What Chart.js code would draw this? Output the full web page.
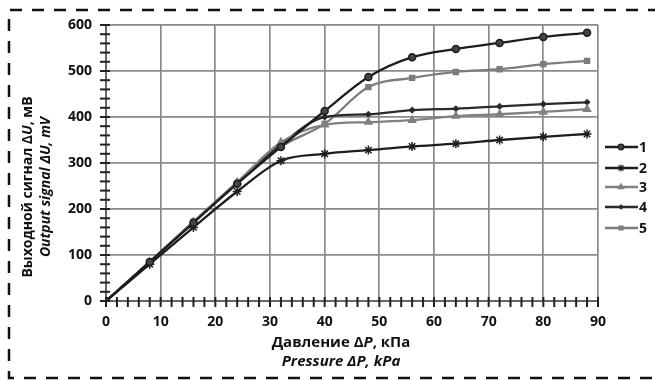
<!DOCTYPE html>
<html>
<head>
<meta charset="utf-8">
<script src="https://cdn.jsdelivr.net/npm/chart.js@4"></script>
<style>
  html, body { margin: 0; padding: 0; background: #fff; }
  #wrap { width: 655px; height: 380px; }
</style>
</head>
<body>
<div id="wrap"><canvas id="chart" width="655" height="380"></canvas></div>
<script>
// pressure, kPa
const pressure = [0, 8, 16, 24, 32, 40, 48, 56, 64, 72, 80, 88];
// output signal, mV
const s1 = [0, 85, 170, 255, 335, 413, 487, 530, 548, 561, 574, 583];
const s2 = [0, 80, 160, 238, 305, 320, 328, 336, 342, 350, 357, 363];
const s3 = [0, 85, 172, 258, 345, 383, 389, 393, 402, 406, 411, 417];
const s4 = [0, 85, 172, 258, 340, 400, 406, 415, 418, 423, 428, 432];
const s5 = [0, 85, 172, 255, 335, 385, 465, 485, 498, 504, 515, 522];
const seriesNames = ['1', '2', '3', '4', '5'];
// minor tick steps
const xMinor = 2;
const yMinor = 20;

const FONT = '"Open Sans", "DejaVu Sans", sans-serif';

function pts(arr) {
    return arr.map((v, i) => ({ x: pressure[i], y: v }));
}

const styles = [
    { color: '#1e1e1e', point: 'circle', r: 3.5, fill: '#444' },
    { color: '#1e1e1e', point: 'star', r: 4.5, fill: '#1e1e1e' },
    { color: '#808080', point: 'triangle', r: 4, fill: '#808080' },
    { color: '#2a2a2a', point: 'rectRot', r: 2.5, fill: '#2a2a2a' },
    { color: '#7c7c7c', point: 'rect', r: 3.5, fill: '#7c7c7c' }
];

const datasets = [s1, s2, s3, s4, s5].map((arr, i) => ({
    label: seriesNames[i],
    data: pts(arr),
    borderColor: styles[i].color,
    backgroundColor: styles[i].fill,
    borderWidth: 2.3,
    pointStyle: styles[i].point,
    pointRadius: styles[i].r,
    pointBorderColor: styles[i].color,
    pointBackgroundColor: styles[i].fill,
    pointBorderWidth: 1.5,
    cubicInterpolationMode: 'monotone'
}));

// draws one line of text with some parts in italic
function drawMixed(ctx, parts, cx, cy, size) {
    let w = 0;
    parts.forEach(p => {
        ctx.font = (p[1] ? 'italic ' : '') + 'bold ' + size + 'px ' + FONT;
        w += ctx.measureText(p[0]).width;
    });
    let x = cx - w / 2;
    ctx.textAlign = 'left';
    ctx.textBaseline = 'middle';
    parts.forEach(p => {
        ctx.font = (p[1] ? 'italic ' : '') + 'bold ' + size + 'px ' + FONT;
        ctx.fillText(p[0], x, cy);
        x += ctx.measureText(p[0]).width;
    });
}

const extras = {
    id: 'extras',
    beforeDraw(chart) {
        // dashed frame (right side is off the picture)
        const ctx = chart.ctx;
        ctx.save();
        ctx.strokeStyle = '#111';
        ctx.lineWidth = 2.5;
        ctx.setLineDash([12, 10]);
        ctx.beginPath();
        ctx.moveTo(660, 10);
        ctx.lineTo(9, 10);
        ctx.lineTo(9, 378);
        ctx.lineTo(660, 378);
        ctx.stroke();
        ctx.restore();
    },
    afterDraw(chart) {
        const ctx = chart.ctx;
        ctx.save();

        // tick marks crossing the axes
        const area = chart.chartArea;
        ctx.setLineDash([]);
        ctx.strokeStyle = '#222';
        ctx.lineWidth = 2;
        for (let v = 0; v <= 90; v += xMinor) {
            const px = chart.scales.x.getPixelForValue(v);
            ctx.beginPath();
            ctx.moveTo(px, area.bottom - 4);
            ctx.lineTo(px, area.bottom + 6);
            ctx.stroke();
        }
        for (let v = 0; v <= 600; v += yMinor) {
            const py = chart.scales.y.getPixelForValue(v);
            ctx.beginPath();
            ctx.moveTo(area.left - 6, py);
            ctx.lineTo(area.left + 4, py);
            ctx.stroke();
        }

        ctx.fillStyle = '#111';
        // x title
        drawMixed(ctx, [['Давление Δ', false], ['P', true], [', кПа', false]], 341, 343, 15);
        drawMixed(ctx, [['Pressure ΔP, kPa', true]], 341, 362, 15);
        // y title
        ctx.save();
        ctx.translate(28, 187);
        ctx.rotate(-Math.PI / 2);
        drawMixed(ctx, [['Выходной сигнал Δ', false], ['U', true], [', мВ', false]], 0, 0, 14);
        ctx.restore();
        ctx.save();
        ctx.translate(46, 187);
        ctx.rotate(-Math.PI / 2);
        drawMixed(ctx, [['Output signal ΔU, mV', true]], 0, 0, 14);
        ctx.restore();
        // legend: line with marker in the middle
        const legendY = [147, 168, 187, 207, 228];
        chart.data.datasets.forEach((ds, i) => {
            const y = legendY[i];
            ctx.strokeStyle = ds.borderColor;
            ctx.lineWidth = 2.5;
            ctx.beginPath();
            ctx.moveTo(605, y);
            ctx.lineTo(638, y);
            ctx.stroke();
            ctx.fillStyle = ds.pointBackgroundColor;
            ctx.lineWidth = 1.2;
            Chart.helpers.drawPoint(ctx, {
                pointStyle: ds.pointStyle,
                radius: ds.pointRadius * 0.8,
                rotation: 0,
                borderWidth: 1.2
            }, 621, y);
            ctx.fillStyle = '#111';
            ctx.font = 'bold 14px ' + FONT;
            ctx.textAlign = 'left';
            ctx.textBaseline = 'middle';
            ctx.fillText(ds.label, 639, y + 1);
        });
        ctx.restore();
    }
};

new Chart(document.getElementById('chart'), {
    type: 'line',
    data: { datasets: datasets },
    options: {
        responsive: false,
        animation: false,
        layout: { padding: { left: 0, right: 57, top: 25, bottom: 0 } },
        plugins: {
            legend: { display: false },
            tooltip: { enabled: false }
        },
        scales: {
            x: {
                type: 'linear',
                min: 0,
                max: 90,
                afterFit(scale) { scale.height = 79; },
                border: { color: '#666', width: 2 },
                grid: {
                    color: '#8a8a8a',
                    lineWidth: 1.7,
                    drawTicks: false
                },
                ticks: {
                    stepSize: 10,
                    maxRotation: 0,
                    padding: 13,
                    color: '#111',
                    font: { family: FONT, size: 14, weight: 'bold' }
                }
            },
            y: {
                min: 0,
                max: 600,
                afterFit(scale) { scale.width = 106; },
                border: { color: '#666', width: 2 },
                grid: {
                    color: '#8a8a8a',
                    lineWidth: 1.7,
                    drawTicks: false
                },
                ticks: {
                    stepSize: 100,
                    padding: 14,
                    color: '#111',
                    font: { family: FONT, size: 14, weight: 'bold' }
                }
            }
        }
    },
    plugins: [extras]
});
</script>
</body>
</html>
